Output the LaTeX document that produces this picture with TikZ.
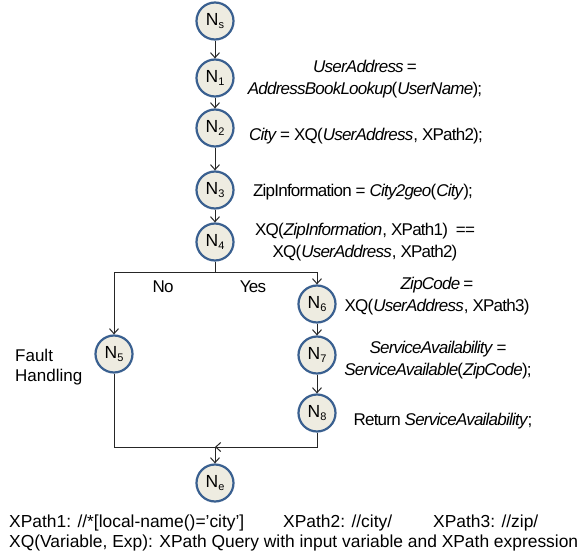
\documentclass[tikz,border=0pt]{standalone}
\usepackage{fontspec}
\setmainfont{Liberation Sans}
\newfontfamily\tightfont[LetterSpace=-4.5]{Liberation Sans}
\usepackage{xcolor}
\usetikzlibrary{arrows.meta}
\definecolor{nodefill}{HTML}{EEECE1}
\definecolor{nodeedge}{HTML}{3A6090}
\newcommand{\nd}[1]{N\raisebox{-0.35ex}{\fontsize{11}{11}\selectfont #1}}

\begin{document}
\begin{tikzpicture}[
    x=1pt, y=-1pt,
    state/.style={circle, draw=nodeedge, fill=nodefill, line width=2.2pt, minimum size=37pt, inner sep=0pt, font=\fontsize{17.5}{17.5}\selectfont},
    code/.style={align=center, inner sep=0pt, font=\tightfont\fontsize{17}{22}\selectfont},
    note/.style={align=left, inner sep=0pt, font=\fontsize{17}{20}\selectfont},
    arrow/.style={-{Straight Barb[length=5pt, width=9pt]}, line width=1pt, black!85}
]
    \useasboundingbox (0,0) rectangle (587,554);
    \fill[white] (0,0) rectangle (587,554);

    % Main chain
    \node[state] (ns) at (215,21) {\nd{s}};
    \node[state] (n1) at (215,78) {\nd{1}};
    \node[state] (n2) at (215,128) {\nd{2}};
    \node[state] (n3) at (215,190) {\nd{3}};
    \node[state] (n4) at (215,242) {\nd{4}};

    % Branches
    \node[state] (n5) at (114,354) {\nd{5}};
    \node[state] (n6) at (317,304) {\nd{6}};
    \node[state] (n7) at (317,355) {\nd{7}};
    \node[state] (n8) at (317,413) {\nd{8}};

    % End
    \node[state] (ne) at (215,483) {\nd{e}};

    \coordinate (split) at (215,272);
    \coordinate (join) at (215,447);

    % Statements
    \node[code] (t1) at (365,79) {\textit{UserAddress} =\\\textit{AddressBookLookup}(\textit{UserName});};
    \node[code] (t2) at (366,136) {\textit{City} = XQ(\textit{UserAddress}, XPath2);};
    \node[code] (t3) at (363,192) {ZipInformation = \textit{City2geo}(\textit{City});};
    \node[code] (t4) at (365,242) {XQ(\textit{ZipInformation}, XPath1)\ \ ==\\XQ(\textit{UserAddress}, XPath2)};
    \node[code] (t6) at (437,296) {\textit{ZipCode} =\\XQ(\textit{UserAddress}, XPath3)};
    \node[code] (t7) at (438,360) {\textit{ServiceAvailability} =\\\textit{ServiceAvailable}(\textit{ZipCode});};
    \node[code] (t8) at (443,421) {Return \textit{ServiceAvailability};};
    \node[note, anchor=west] (fault) at (15,367) {Fault\\Handling};
    \node[code] (lno) at (163,287) {No};
    \node[code] (lyes) at (253,287) {Yes};

    % Arrows
    \draw[arrow] (ns) -- (n1);
    \draw[arrow] (n1) -- (n2);
    \draw[arrow] (n2) -- (n3);
    \draw[arrow] (n3) -- (n4);
    \draw[arrow] (n4) -- (split) -| (n5);
    \draw[arrow] (n4) -- (split) -| (n6);
    \draw[arrow] (n6) -- (n7);
    \draw[arrow] (n7) -- (n8);
    \draw[arrow] (n8) |- (join);
    \draw[arrow] (n5) |- (join) -- (ne);

    % Legend
    \node[note, anchor=west, font=\fontsize{17.4}{20}\selectfont] (x1) at (9,523) {XPath1: //*[local-name()='city']};
    \node[note, anchor=west, font=\fontsize{17.4}{20}\selectfont] (x2) at (283,523) {XPath2: //city/};
    \node[note, anchor=west, font=\fontsize{17.4}{20}\selectfont] (x3) at (433,523) {XPath3: //zip/};
    \node[note, anchor=west, font=\fontsize{17.4}{20}\selectfont] (xq) at (9,543) {XQ(Variable, Exp): XPath Query with input variable and XPath expression};
\end{tikzpicture}
\end{document}
